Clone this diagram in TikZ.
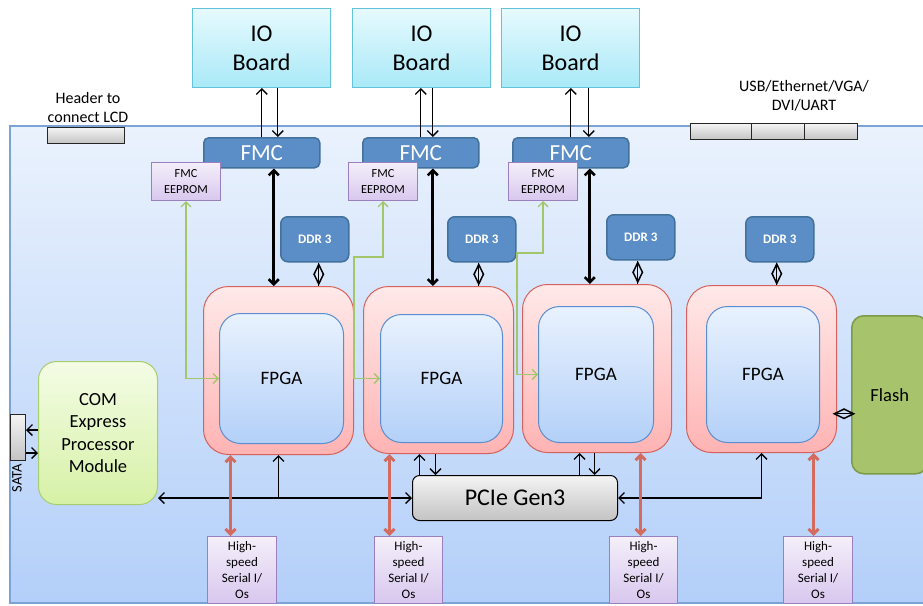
\documentclass[tikz,border=0pt]{standalone}
\usepackage{fontspec}
\setmainfont{Carlito}
\usetikzlibrary{arrows.meta,shapes.geometric}
\definecolor{boardtop}{HTML}{EAF2FD}
\definecolor{boardbot}{HTML}{B3CFF9}
\definecolor{boardline}{HTML}{7BA3D6}
\definecolor{iotop}{HTML}{E6FAFE}
\definecolor{iobot}{HTML}{A9E9F7}
\definecolor{ioline}{HTML}{63C3DA}
\definecolor{fmcfill}{HTML}{5B8EC6}
\definecolor{fmcline}{HTML}{41719C}
\definecolor{eeptop}{HTML}{F4EFFA}
\definecolor{eepbot}{HTML}{D8C7EE}
\definecolor{eepline}{HTML}{9A80BE}
\definecolor{fotop}{HTML}{FFE9E9}
\definecolor{fobot}{HTML}{FFB3B3}
\definecolor{foline}{HTML}{D5625D}
\definecolor{fitop}{HTML}{E9F2FE}
\definecolor{fibot}{HTML}{B3D0F8}
\definecolor{filine}{HTML}{5A8ED1}
\definecolor{comtop}{HTML}{F4FCE5}
\definecolor{combot}{HTML}{D6F1A6}
\definecolor{comline}{HTML}{A7CE6E}
\definecolor{flashfill}{HTML}{A7C36B}
\definecolor{flashline}{HTML}{7D9A46}
\definecolor{graytop}{HTML}{F4F4F4}
\definecolor{graybot}{HTML}{C3C3C3}
\definecolor{salmon}{HTML}{D36B5E}
\definecolor{greenarr}{HTML}{A4C66A}
\tikzset{
  bx/.style n args={4}{at={(#1,#2)}, anchor=north west, minimum width=#3pt, minimum height=#4pt},
  base/.style={inner sep=0pt, align=center},
  iobox/.style={base, draw=ioline, line width=1pt, top color=iotop, bottom color=iobot, font=\fontsize{24}{29}\selectfont},
  fmcbox/.style={base, draw=fmcline, line width=1.5pt, fill=fmcfill, rounded corners=5pt, text=white, font=\fontsize{23}{26}\selectfont},
  eepbox/.style={base, draw=eepline, line width=1pt, top color=eeptop, bottom color=eepbot, font=\fontsize{12.3}{16}\selectfont},
  ddrbox/.style={base, draw=fmcline, line width=1.5pt, fill=fmcfill, rounded corners=7pt, text=white, font=\fontsize{13}{15}\selectfont\bfseries},
  fpgaout/.style={base, draw=foline, line width=1pt, top color=fotop, bottom color=fobot, rounded corners=25pt},
  fpgain/.style={base, draw=filine, line width=1pt, top color=fitop, bottom color=fibot, rounded corners=21pt, font=\fontsize{19}{22}\selectfont},
  combox/.style={base, draw=comline, line width=1pt, top color=comtop, bottom color=combot, rounded corners=18pt, font=\fontsize{18.5}{22.5}\selectfont},
  flashbox/.style={base, draw=flashline, line width=1.5pt, fill=flashfill, rounded corners=12pt, font=\fontsize{18.5}{22}\selectfont},
  pciebox/.style={base, draw=black, line width=1pt, top color=graytop, bottom color=graybot, rounded corners=7pt, font=\fontsize{24}{26}\selectfont},
  connbox/.style={base, draw=black!85, line width=1pt, top color=graytop, bottom color=graybot},
  serbox/.style={base, draw=eepline, line width=1pt, top color=eeptop, bottom color=eepbot, font=\fontsize{13}{16}\selectfont},
  label/.style={inner sep=0pt, align=center, font=\fontsize{16}{19}\selectfont},
  tarr/.style={line width=1.3pt, draw=black},
  thickarr/.style={line width=2.6pt, draw=black, {Straight Barb[length=5pt,width=10pt]}-{Straight Barb[length=5pt,width=10pt]}},
  salarr/.style={line width=3pt, draw=salmon, {Straight Barb[length=5pt,width=10pt]}-{Straight Barb[length=5pt,width=10pt]}},
  grarr/.style={line width=1.3pt, draw=greenarr, {Straight Barb[length=5pt,width=10pt]}-{Straight Barb[length=5pt,width=10pt]}},
  diav/.style={diamond, draw=black, line width=1.5pt, inner sep=0pt, minimum width=10pt, minimum height=20pt, shape aspect=0.5},
  diah/.style={diamond, draw=black, line width=1.5pt, inner sep=0pt, minimum width=20pt, minimum height=10pt, shape aspect=2},
}
\begin{document}
\begin{tikzpicture}[x=1pt,y=-1pt,>={Straight Barb[length=5.5pt,width=11pt]}]
\clip (0,0) rectangle (923,605);
\fill[white] (0,0) rectangle (923,605);
% board
\draw[draw=boardline, line width=1.2pt, top color=boardtop, bottom color=boardbot] (10,126) rectangle (960,603);
% IO boards
\node[iobox, bx={192}{8}{138}{79}] (io1) {IO\\Board};
\node[iobox, bx={352}{8}{138}{79}] (io2) {IO\\Board};
\node[iobox, bx={501}{8}{138}{79}] (io3) {IO\\Board};
% labels
\node[label] (hdrlab) at (88,108) {Header to\\connect LCD};
\node[label] (usblab) at (804,96) {USB/Ethernet/VGA/\\DVI/UART};
\node[connbox, bx={47}{127}{77}{16}] (hdr) {};
\node[connbox, bx={690}{123}{61}{16}] (usb1) {};
\node[connbox, bx={751}{123}{53}{16}] (usb2) {};
\node[connbox, bx={804}{123}{53}{16}] (usb3) {};
% FMC
\node[fmcbox, bx={203}{137}{116}{30}] (fmc1) {FMC};
\node[fmcbox, bx={362}{137}{116}{30}] (fmc2) {FMC};
\node[fmcbox, bx={512}{137}{116}{30}] (fmc3) {FMC};
\node[eepbox, bx={151}{162}{69}{38}] (eep1) {FMC\\EEPROM};
\node[eepbox, bx={348}{162}{69}{38}] (eep2) {FMC\\EEPROM};
\node[eepbox, bx={508}{162}{69}{38}] (eep3) {FMC\\EEPROM};
% DDR
\node[ddrbox, bx={280}{216}{68}{45}] (ddr1) {DDR 3};
\node[ddrbox, bx={447}{216}{68}{45}] (ddr2) {DDR 3};
\node[ddrbox, bx={606}{214}{68}{45}] (ddr3) {DDR 3};
\node[ddrbox, bx={745}{216}{68}{45}] (ddr4) {DDR 3};
% FPGAs
\node[fpgaout, bx={203}{286}{150}{168}] (fpo1) {};
\node[fpgaout, bx={363}{286}{150}{167}] (fpo2) {};
\node[fpgaout, bx={522}{284}{149}{168}] (fpo3) {};
\node[fpgaout, bx={686}{285}{150}{167}] (fpo4) {};
\node[fpgain, bx={219}{313}{124}{130}] (fpi1) {FPGA};
\node[fpgain, bx={380}{314}{122}{128}] (fpi2) {FPGA};
\node[fpgain, bx={538}{306}{115}{136}] (fpi3) {FPGA};
\node[fpgain, bx={706}{306}{113}{136}] (fpi4) {FPGA};
% others
\node[flashbox, bx={851}{315}{76}{158}] (flash) {Flash};
\node[combox, bx={38}{361}{119}{143}] (com) {COM\\Express\\Processor\\Module};
\node[connbox, bx={10}{414}{15}{46}] (sata) {};
\node[inner sep=0pt, rotate=90, font=\fontsize{14.5}{16}\selectfont] (satalab) at (17,478) {SATA};
\node[pciebox, bx={412}{475}{205}{45}] (pcie) {PCIe Gen3};
\node[serbox, bx={207}{536}{69}{67}] (ser1) {High-\\speed\\Serial I/\\Os};
\node[serbox, bx={374}{536}{68}{67}] (ser2) {High-\\speed\\Serial I/\\Os};
\node[serbox, bx={609}{536}{68}{67}] (ser3) {High-\\speed\\Serial I/\\Os};
\node[serbox, bx={783}{536}{69}{67}] (ser4) {High-\\speed\\Serial I/\\Os};
% IO <-> FMC
\draw[tarr, ->] (fmc1.north) -- (fmc1.north |- io1.south);
\draw[tarr, ->] (fmc2.north) -- (fmc2.north |- io2.south);
\draw[tarr, ->] (fmc3.north) -- (fmc3.north |- io3.south);
\coordinate (q1) at ([xshift=16pt]fmc1.north);
\coordinate (q2) at ([xshift=12pt]fmc2.north);
\coordinate (q3) at ([xshift=18pt]fmc3.north);
\draw[tarr, ->] (q1 |- io1.south) -- (q1);
\draw[tarr, ->] (q2 |- io2.south) -- (q2);
\draw[tarr, ->] (q3 |- io3.south) -- (q3);
% FMC <-> FPGA
\coordinate (t1) at ([xshift=12pt]fmc1.south);
\coordinate (t2) at ([xshift=12pt]fmc2.south);
\coordinate (t3) at ([xshift=19pt]fmc3.south);
\draw[thickarr] (t1) -- (t1 |- fpo1.north);
\draw[thickarr] (t2) -- (t2 |- fpo2.north);
\draw[thickarr] (t3) -- (t3 |- fpo3.north);
% DDR <-> FPGA
\coordinate (d1) at ([xshift=4pt]ddr1.south);
\coordinate (d2) at ([xshift=-3pt]ddr2.south);
\coordinate (d3) at ([xshift=-3pt]ddr3.south);
\coordinate (d4) at ([xshift=-3pt]ddr4.south);
\draw[line width=1.2pt] (d1) -- (d1 |- fpo1.north) node[midway, diav] {};
\draw[line width=1.2pt] (d2) -- (d2 |- fpo2.north) node[midway, diav] {};
\draw[line width=1.2pt] (d3) -- (d3 |- fpo3.north) node[midway, diav] {};
\draw[line width=1.2pt] (d4) -- (d4 |- fpo4.north) node[midway, diav] {};
% FPGA4 <-> Flash
\coordinate (fl) at ([yshift=-19pt]flash.west);
\draw[line width=1.2pt] (fl) -- (fl -| fpo4.east) node[midway, diah] {};
% EEPROM <-> FPGA
\draw[grarr] (eep1.south) |- (fpi1.west);
\draw[grarr] (eep2.south) -- ++(0,56) -| ([xshift=-26pt]fpi2.west) -- (fpi2.west);
\draw[grarr] (eep3.south) -- ++(0,52) -| ([xshift=-21pt]fpi3.west) -- (fpi3.west);
% SATA
\coordinate (sa1) at ([yshift=3pt]com.west);
\coordinate (sa2) at ([yshift=-20pt]com.west);
\draw[tarr, ->] (sa1) -- (sa1 -| sata.east);
\draw[tarr, ->] (sa2 -| sata.east) -- (sa2);
% PCIe
\draw[tarr, <->] (pcie.west) -- (pcie.west -| com.east);
\draw[tarr, ->] (fpo1.south |- pcie.west) -- (fpo1.south);
\coordinate (p2u) at ([xshift=-19pt]fpo2.south);
\coordinate (p2d) at ([xshift=-3pt]fpo2.south);
\coordinate (p3u) at ([xshift=-17.5pt]fpo3.south);
\coordinate (p3d) at ([xshift=-2.5pt]fpo3.south);
\draw[tarr, ->] (p2u |- pcie.north) -- (p2u);
\draw[tarr, ->] (p2d) -- (p2d |- pcie.north);
\draw[tarr, ->] (p3u |- pcie.north) -- (p3u);
\draw[tarr, ->] (p3d) -- (p3d |- pcie.north);
\draw[tarr, <->] (pcie.east) -| (fpo4.south);
% serial
\coordinate (s1) at ([xshift=-11.5pt]ser1.north);
\coordinate (s2) at ([xshift=-19pt]ser2.north);
\coordinate (s3) at ([xshift=-3pt]ser3.north);
\coordinate (s4) at ([xshift=-4.5pt]ser4.north);
\draw[salarr] (s1) -- (s1 |- fpo1.south);
\draw[salarr] (s2) -- (s2 |- fpo2.south);
\draw[salarr] (s3) -- (s3 |- fpo3.south);
\draw[salarr] (s4) -- (s4 |- fpo4.south);
\end{tikzpicture}
\end{document}
